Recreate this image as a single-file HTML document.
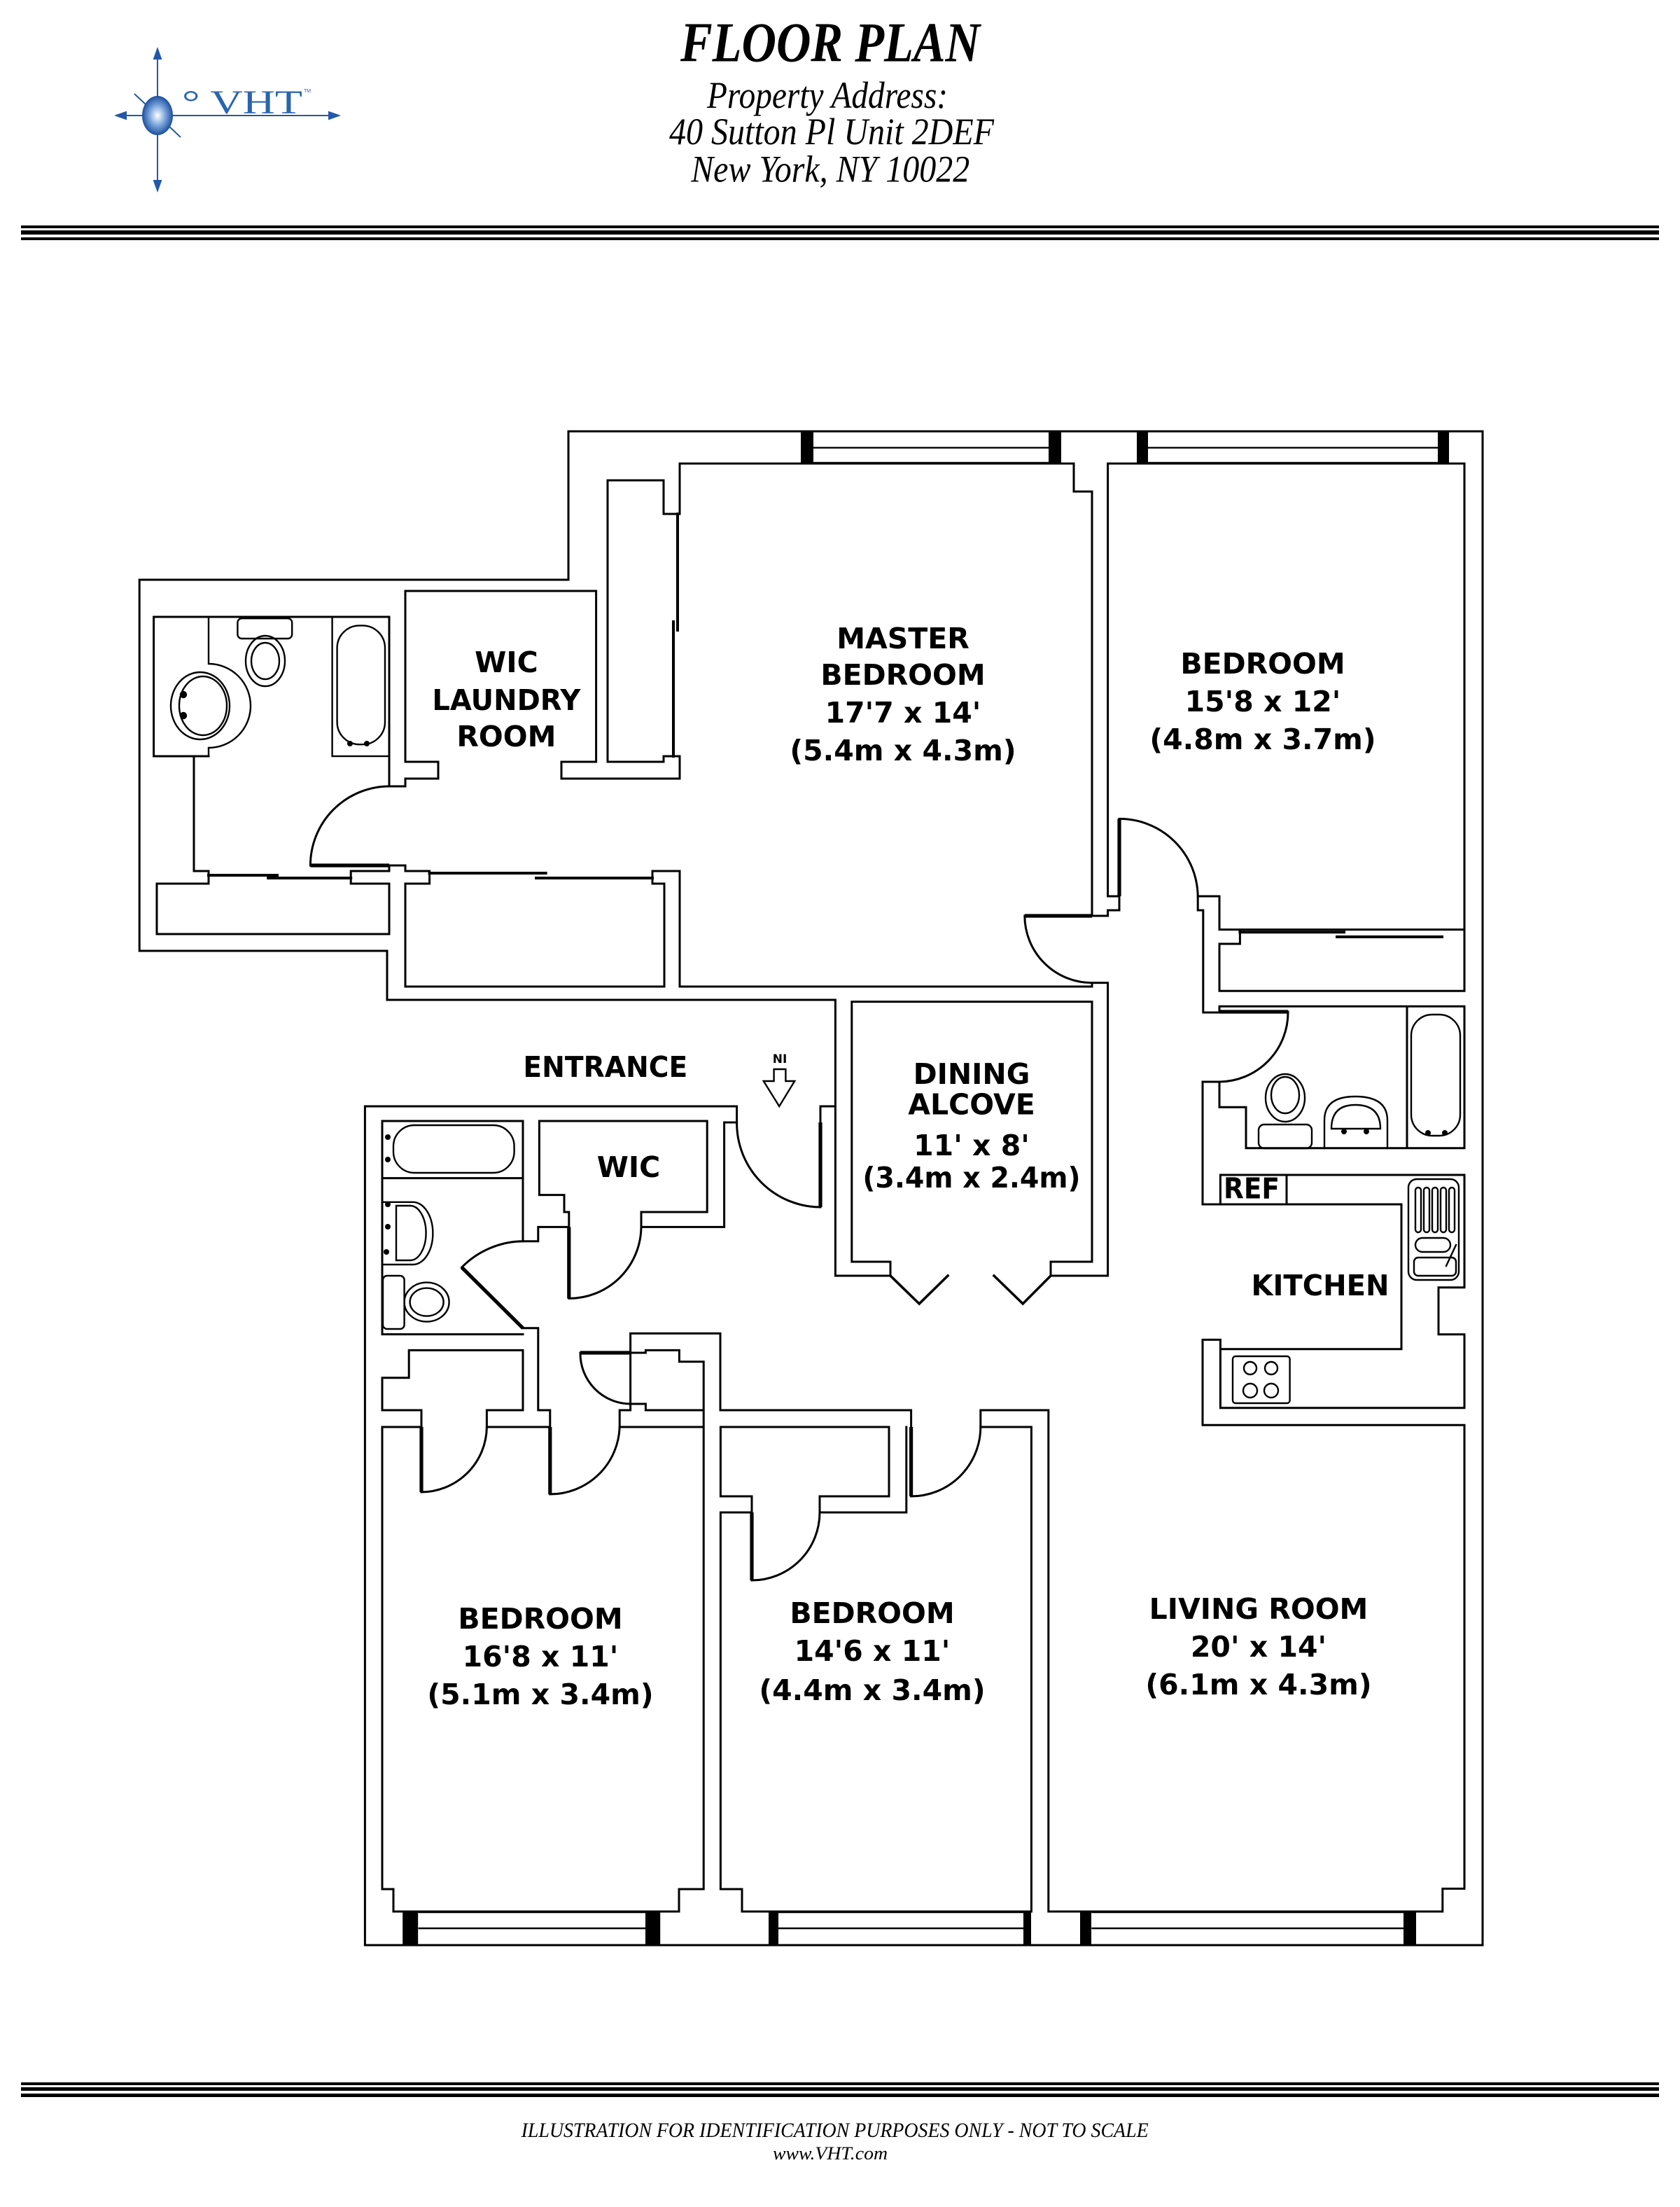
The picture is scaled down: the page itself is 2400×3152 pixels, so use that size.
<!DOCTYPE html>
<html><head><meta charset="utf-8"><style>
html,body{margin:0;padding:0;background:#fff}
svg{display:block}
.w{fill:none;stroke:#000;stroke-width:1.5;stroke-linejoin:miter;stroke-linecap:square}
.t{fill:none;stroke:#000;stroke-width:2.6}
.f{fill:none;stroke:#000;stroke-width:1.2}
.lb{font-family:"DejaVu Sans","Liberation Sans",sans-serif;font-weight:bold;font-size:20.5px;text-anchor:middle;fill:#000}
.hd{font-family:"Liberation Serif",serif;font-style:italic;fill:#000}
</style></head><body>
<svg width="2400" height="3152" viewBox="0 0 2400 3152" xmlns="http://www.w3.org/2000/svg">
<defs>
<radialGradient id="g" cx="0.5" cy="0.5" r="0.5"><stop offset="0" stop-color="#fff"/><stop offset="0.5" stop-color="#7fa8df"/><stop offset="1" stop-color="#1c4f9c"/></radialGradient>
</defs>
<rect width="2400" height="3152" fill="#fff"/>
<g transform="scale(2)">
<!-- logo -->
<g stroke="#2358a8" stroke-width="1" fill="#2358a8">
<line x1="112.5" y1="36" x2="112.5" y2="135"/>
<line x1="84" y1="82.5" x2="241" y2="82.5"/>
<line x1="96" y1="67" x2="129" y2="98"/>
<path d="M112.5,35 l-2.5,7 h5z M112.5,136 l-2.5,-7 h5z M83,82.5 l7,-2.5 v5z M242,82.5 l-7,-2.5 v5z"/>
</g>
<ellipse cx="112.5" cy="82.5" rx="11" ry="14" fill="url(#g)"/>
<text x="130" y="81" font-family="Liberation Serif,serif" font-size="24" fill="#2a64b0" textLength="86" lengthAdjust="spacingAndGlyphs">° VHT</text>
<text x="217" y="66" font-family="Liberation Sans,sans-serif" font-size="3.5" fill="#2a64b0">TM</text>
<!-- header text -->
<text class="hd" x="486" y="43.7" font-size="40" font-weight="bold" textLength="214" lengthAdjust="spacingAndGlyphs">FLOOR PLAN</text>
<text class="hd" x="505" y="77" font-size="27" textLength="172" lengthAdjust="spacingAndGlyphs">Property Address:</text>
<text class="hd" x="478" y="103" font-size="27" textLength="232" lengthAdjust="spacingAndGlyphs">40 Sutton Pl Unit 2DEF</text>
<text class="hd" x="493.6" y="129.7" font-size="27" textLength="199" lengthAdjust="spacingAndGlyphs">New York, NY 10022</text>
<!-- rules -->
<rect x="15" y="161" width="1170" height="2" fill="#000"/>
<rect x="15" y="164.5" width="1170" height="3" fill="#000"/>
<rect x="15" y="169.5" width="1170" height="2" fill="#000"/>
<rect x="15" y="1487" width="1170" height="2" fill="#000"/>
<rect x="15" y="1490.5" width="1170" height="2.5" fill="#000"/>
<rect x="15" y="1495" width="1170" height="2.5" fill="#000"/>
<text class="hd" x="372.3" y="1526" font-size="15" textLength="448" lengthAdjust="spacingAndGlyphs">ILLUSTRATION FOR IDENTIFICATION PURPOSES ONLY - NOT TO SCALE</text>
<text class="hd" x="552" y="1542" font-size="13" textLength="82" lengthAdjust="spacingAndGlyphs">www.VHT.com</text>

<!-- walls -->
<path class="w" d="
M406,414 L99.6,414 L99.6,679 L276.5,679 L276.5,714 L596.7,714 L596.7,790 L586,790 L586,801.5
M406,414 L406,308 L1059,308 L1059,1389 L260.7,1389 L260.7,790 L526.3,790 L526.3,801.5 L517.3,801.5 L517.3,876.2 L458,876.2
M109.8,440.5 L278,440.5 L278,561.5 L289.5,561.5 L289.5,556 L313,556 L313,544 L289.5,544 L289.5,422 L425.8,422 L425.8,544 L401,544 L401,556 L485.5,556 L485.5,540 L474,540 L474,544 L434,544 L434,343 L474,343 L474,367 L485.5,367 L485.5,331 L767,331 L767,351 L780,351 L780,654
M109.8,440.5 L109.8,540 L138.5,540 L138.5,622 L149,622 L149,631 L112,631 L112,667 L278,667 L278,631 L250.6,631 L250.6,622 L278,622 L278,618 L289.5,618 L289.5,622 L306.8,622 L306.8,631 L289.5,631 L289.5,704.5 L474.5,704.5 L474.5,631 L466,631 L466,622 L485.5,622 L485.5,704.5 L780,704.5 L780,701.8 L791.3,701.8 L791.3,911 L750.5,911 L750.5,901 L780,901 L780,715.3 L608.4,715.3 L608.4,901 L636,901 L636,911 L596.7,911 L596.7,714
M149,540 L109.8,540
M791.3,331 L791.3,640 L799.5,640 L799.5,650 L791.3,650 L791.3,654 L780,654
M855.6,640 L871,640 L871,663.8 L885.7,663.8 L885.7,674 L871,674 L871,707.6 L1046,707.6
M885.7,663.8 L1046,663.8 M791.3,331 L1046,331 L1046,707.6
M855.6,640 L855.6,650 L859.4,650 L859.4,723 L871,723 L871,718.6 L1046,718.6 L1046,819.9 L890,819.9 L890,790.6 L871,790.6 L871,772.5 L859,772.5 L859,860 L1001,860 L1001,963.4 L871.7,963.4 L871.7,956.7 L859,956.7 L859,1017.6 L1046,1017.6 L1046,1348.7 L1030.4,1348.7 L1030.4,1365 L748.9,1365 L748.9,1007 L700.4,1007 L700.4,1019 L736.7,1019 L736.7,1365 L530,1365 L530,1349 L514.7,1349 L514.7,1080 L537,1080 L537,1068.5 L514.7,1068.5 L514.7,1019 L635,1019 L635,1068.5 L585.5,1068.5 L585.5,1080 L647.4,1080 L647.4,1019
M1005,718.6 L1005,819.9
M871.7,839 L1046,839 L1046,919.4 L1027.5,919.4 L1027.5,952.9 L1046,952.9 L1046,1005.4 L871.7,1005.4 L871.7,963.4
M871.7,839 L871.7,860 M919,839 L919,860
M514.5,1007 L650.8,1007 L650.8,1019
M273,800.5 L373.5,800.5 L373.5,886.4 L384.4,886.4 L384.4,876.2 L406.4,876.2 L406.4,865.5 L403,865.5 L403,853.3 L385.2,853.3 L385.2,800.5 L505.1,800.5 L505.1,865.5 L458,865.5 L458,876.2
M273,841.3 L373.5,841.3
M273,800.5 L273,952.8 L373.5,952.8
M373.5,948.4 L384.4,948.4 L384.4,1007 L392.9,1007 L392.9,1019
M442.6,1019 L442.6,1007 L450.3,1007 L450.3,952.2 L514.5,952.2 L514.5,1007
M450.3,1002.5 L461.2,1002.5 L461.2,1007 L502.6,1007 L502.6,972.4 L485.2,972.4 L485.2,964.2 L461.2,964.2 L461.2,966 L450.3,966 L450.3,952.2
M273,983.9 L292.1,983.9 L292.1,964.2 L373.5,964.2 L373.5,1007 L347.7,1007 L347.7,1019
M273,983.9 L273,1007 L301,1007 L301,1019
M273,1019 L301,1019 M347.7,1019 L392.9,1019 M442.6,1019 L502.6,1019
M273,1019 L273,1349 L281,1349 L281,1365 L485,1365 L485,1349 L502.6,1349 L502.6,972.4
"/>
<!-- thick door leaves & sliding doors -->
<path class="t" d="M586,801.5 L586,862 M731.9,654 L780,654 M799.5,584.7 L799.5,640 M871,722.5 L920,722.5
M650.8,1019 L650.8,1068.5 M537,1080 L537,1128.5 M406.4,876.2 L406.4,927.2 M329.8,905 L373.5,948.4
M392.9,1019 L392.9,1067 M414.5,966 L450.3,966 M301,1019 L301,1065.5 M221.7,618 L278,618"/>
<path class="w" style="stroke-width:2" d="M484,367 L484,450 M481,444 L481,540 M149,625 L198,625 M191.6,627 L250.6,627 M306.8,623.5 L389.8,623.5 M383,627 L466,627 M885.7,665.6 L960,665.6 M955,669 L1030,669"/>
<!-- dining V doors -->
<path class="w" style="stroke-width:1.8" d="M636,911 L656.6,931 L677,911 M710,911 L730.6,931 L750.5,911"/>
<!-- door arcs -->
<path class="w" d="
M526.3,801.5 A60,60 0 0 0 586,862
M278,561.5 A56.5,56.5 0 0 0 221.7,618
M731.9,654 A48,48 0 0 0 780,701.8
M799.5,584.7 A56,56 0 0 1 855.6,640
M920,722.5 A49.5,49.5 0 0 1 871,772.5
M650.8,1068.5 A49.6,49.6 0 0 0 700.4,1019
M585.5,1080 A48.5,48.5 0 0 1 537,1128.5
M406.4,927.2 A51.5,51.5 0 0 0 458,876.2
M373.5,886.4 A62,62 0 0 0 329.8,905
M392.9,1067 A49.7,49.7 0 0 0 442.6,1019
M414.5,966 A36,36 0 0 0 450.3,1002.5
M301,1065.5 A47,47 0 0 0 347.7,1019
"/>
<!-- windows -->
<g fill="#000">
<rect x="572" y="308" width="9" height="23"/><rect x="749" y="308" width="9" height="23"/>
<rect x="812" y="308" width="8" height="23"/><rect x="1027" y="308" width="8" height="23"/>
<rect x="287.6" y="1365" width="11" height="24"/><rect x="461" y="1365" width="10.6" height="24"/>
<rect x="549" y="1365" width="7" height="24"/><rect x="731" y="1365" width="5.5" height="24"/>
<rect x="771.5" y="1365" width="8" height="24"/><rect x="1002.5" y="1365" width="9" height="24"/>
</g>
<path class="f" d="M581,319.7 L749,319.7 M820,319.7 L1027,319.7 M581,330.5 L749,330.5 M820,330.5 L1027,330.5
M298.8,1377 L461,1377 M556,1377 L731,1377 M779.7,1377 L1002.5,1377
M298.8,1365.5 L461,1365.5 M556,1365.5 L731,1365.5 M779.7,1365.5 L1002.5,1365.5"/>
<!-- fixtures -->
<g class="w" style="stroke-width:1.2">
<path d="M149,440.5 L149,474 A30,30 0 0 1 149,534 L149,540"/>
<ellipse cx="143" cy="504" rx="21" ry="24"/><ellipse cx="145" cy="504" rx="17" ry="21"/>
<rect x="169.7" y="441.6" width="38.9" height="14.4" rx="3"/>
<ellipse cx="189.5" cy="472" rx="14" ry="18"/><ellipse cx="189.5" cy="472" rx="10" ry="13"/>
<rect x="237.3" y="440.5" width="40.7" height="99.5"/>
<rect x="240.8" y="446.7" width="34.2" height="84.9" rx="16"/>
<rect x="281" y="803.5" width="86.3" height="34" rx="15"/>
<path d="M273.5,858.4 L295,858.4 A14,22 0 0 1 295,903 L273.5,903"/>
<path d="M283,861 L293,861 A11,19 0 0 1 293,900 L283,900 Z"/>
<rect x="273.5" y="911" width="15.3" height="38" rx="3"/>
<ellipse cx="304.8" cy="929.8" rx="16" ry="14"/><ellipse cx="304.8" cy="929.8" rx="12" ry="10"/>
<ellipse cx="918" cy="784" rx="14" ry="17"/><ellipse cx="918" cy="782" rx="10" ry="13"/>
<rect x="899" y="803" width="38" height="17" rx="4"/>
<path d="M946,820 L946,800 Q946,783 968,783 Q991,783 991,800 L991,820"/>
<path d="M951,806 Q951,789 968,789 Q986,789 986,806 Z"/>
<rect x="1008" y="724.5" width="35" height="86.5" rx="15"/>
<rect x="1006" y="842" width="36" height="72" rx="6"/>
<rect x="1011" y="848" width="4" height="32" rx="2"/><rect x="1017" y="848" width="4" height="32" rx="2"/><rect x="1023" y="848" width="4" height="32" rx="2"/><rect x="1029" y="848" width="4" height="32" rx="2"/><rect x="1035" y="848" width="4" height="32" rx="2"/>
<rect x="1011" y="884" width="25" height="10" rx="5"/><rect x="1010" y="898" width="30" height="13" rx="3"/>
<line x1="1033" y1="904" x2="1040" y2="889"/>
<rect x="880.5" y="968.5" width="40.8" height="33.5" rx="2"/>
<circle cx="893" cy="977" r="4.5"/><circle cx="908" cy="977" r="4.5"/><circle cx="893" cy="993" r="5"/><circle cx="908" cy="993" r="5"/>
</g>
<g fill="#000">
<circle cx="131" cy="496" r="2.6"/><circle cx="131" cy="511" r="2.6"/>
<circle cx="277" cy="812" r="2"/><circle cx="277" cy="828" r="2"/>
<circle cx="277" cy="860" r="2"/><circle cx="277" cy="876" r="2"/><circle cx="276" cy="894" r="2"/>
<circle cx="250" cy="531" r="2"/><circle cx="262" cy="531" r="2"/>
<circle cx="1020" cy="809" r="2"/><circle cx="1032" cy="809" r="2"/>
<circle cx="960" cy="808" r="2"/><circle cx="976" cy="808" r="2"/>
</g>
<path class="w" style="stroke-width:1.2" d="M552.8,763.5 L561.2,763.5 L561.2,772 L567.6,772 L556.6,790 L545.4,772 L552.8,772 Z"/>
<text x="557" y="759" font-family="DejaVu Sans,sans-serif" font-weight="bold" font-size="8.5" text-anchor="middle">NI</text>
<text class="lb" x="361.7" y="480">WIC</text>
<text class="lb" x="361.7" y="507" textLength="106" lengthAdjust="spacingAndGlyphs">LAUNDRY</text>
<text class="lb" x="361.7" y="533">ROOM</text>
<text class="lb" x="645" y="463">MASTER</text>
<text class="lb" x="645" y="489">BEDROOM</text>
<text class="lb" x="645" y="516">17'7 x 14'</text>
<text class="lb" x="645" y="543">(5.4m x 4.3m)</text>
<text class="lb" x="902" y="481">BEDROOM</text>
<text class="lb" x="902" y="508">15'8 x 12'</text>
<text class="lb" x="902" y="535">(4.8m x 3.7m)</text>
<text class="lb" x="694" y="774">DINING</text>
<text class="lb" x="694" y="795.7">ALCOVE</text>
<text class="lb" x="694" y="825">11' x 8'</text>
<text class="lb" x="694" y="848" textLength="155.6" lengthAdjust="spacingAndGlyphs">(3.4m x 2.4m)</text>
<text class="lb" x="432.4" y="769" textLength="117.4" lengthAdjust="spacingAndGlyphs">ENTRANCE</text>
<text class="lb" x="449" y="840.5">WIC</text>
<text class="lb" x="894" y="855.8" textLength="40" lengthAdjust="spacingAndGlyphs">REF</text>
<text class="lb" x="943" y="925" textLength="98.5" lengthAdjust="spacingAndGlyphs">KITCHEN</text>
<text class="lb" x="386" y="1163">BEDROOM</text>
<text class="lb" x="386" y="1190">16'8 x 11'</text>
<text class="lb" x="386" y="1217">(5.1m x 3.4m)</text>
<text class="lb" x="623" y="1159">BEDROOM</text>
<text class="lb" x="623" y="1186">14'6 x 11'</text>
<text class="lb" x="623" y="1214">(4.4m x 3.4m)</text>
<text class="lb" x="899" y="1156">LIVING ROOM</text>
<text class="lb" x="899" y="1183">20' x 14'</text>
<text class="lb" x="899" y="1210">(6.1m x 4.3m)</text>
</g>
</svg>
</body></html>
